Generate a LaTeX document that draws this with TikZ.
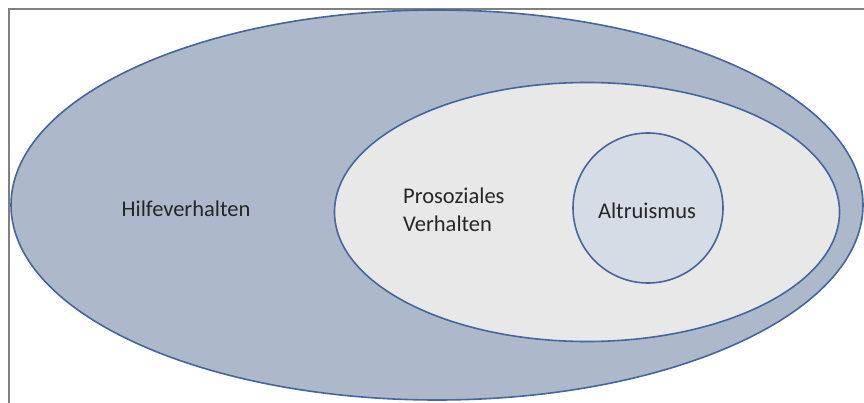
\documentclass[tikz,border=0pt]{standalone}
\usepackage{fontspec}
\setmainfont{Carlito}
\usetikzlibrary{shapes.geometric,positioning}
\usepackage{xcolor}
\definecolor{rand}{RGB}{68,102,158}
\definecolor{aussen}{RGB}{173,185,202}
\definecolor{innen}{RGB}{232,232,232}
\definecolor{kern}{RGB}{214,220,229}

\begin{document}
\begin{tikzpicture}[x=1pt,y=-1pt,
  menge/.style={ellipse,draw=rand,line width=1.6pt,inner sep=0pt,outer sep=0pt},
  beschriftung/.style={font=\fontsize{22.5}{27.5}\selectfont,text=black!85,align=left,inner sep=0pt}]
  \useasboundingbox (0,0) rectangle (864,403);
  \clip (0,0) rectangle (864,403);
  \draw[gray,line width=2.4pt] (9,410) -- (9,9) -- (870,9);
  \node[menge,fill=aussen,minimum width=852pt,minimum height=390pt] (hilfe) at (437,205) {};
  \node[menge,fill=innen,minimum width=505pt,minimum height=259pt] (prosozial) at (587,212) {};
  \node[menge,fill=kern,minimum width=150pt,minimum height=150pt] (altruismus) at (648,208) {};
  \node[beschriftung] (hilfetext) at (186,209) {Hilfeverhalten};
  \node[beschriftung,anchor=west] (prosozialtext) at (403,210) {Prosoziales\\Verhalten};
  \node[beschriftung] (altruismustext) at (647,211) {Altruismus};
\end{tikzpicture}
\end{document}
